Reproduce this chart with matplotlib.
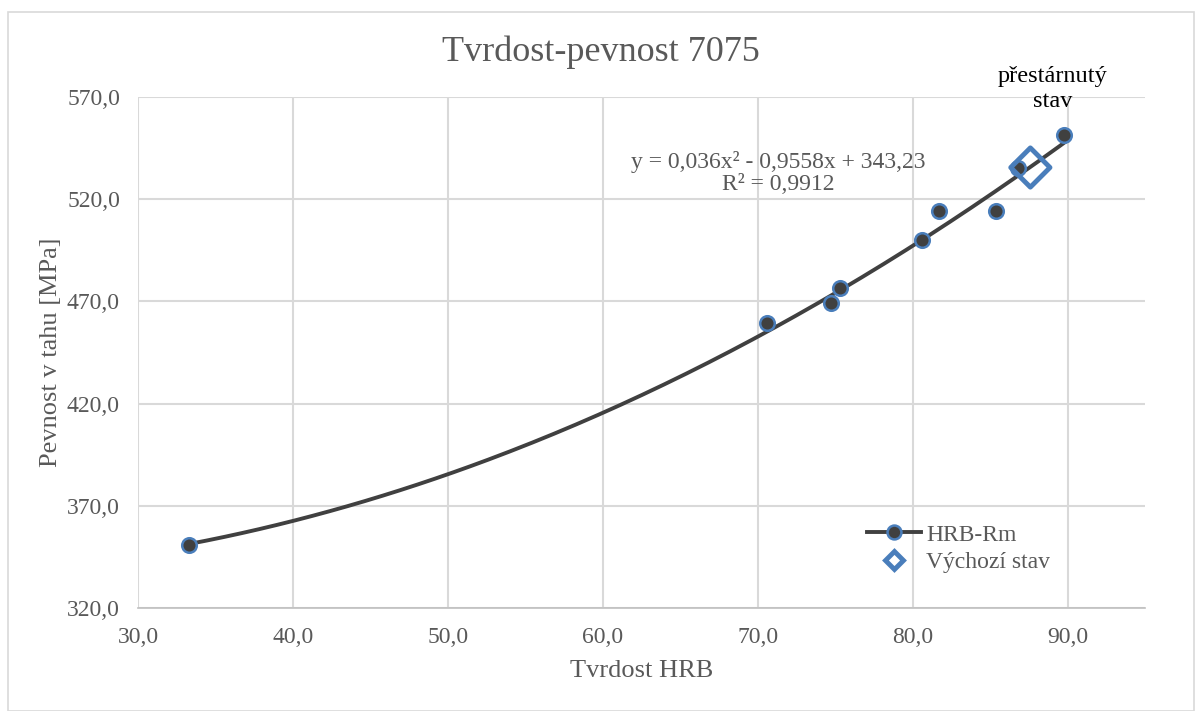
import matplotlib.pyplot as plt
import matplotlib.patches as patches
import numpy as np
from matplotlib.lines import Line2D

plt.rcParams['font.family'] = ['Liberation Serif', 'DejaVu Serif']

# HRB-Rm series
hrb = [33.3, 70.6, 74.7, 75.3, 80.6, 81.7, 85.4, 86.8, 89.8]
rm = [351.0, 459.5, 469.0, 476.5, 500.0, 514.0, 514.0, 535.5, 551.5]
# Vychozi stav
hrb0 = [87.6]
rm0 = [535.5]
# polynomial trendline coefficients (from Excel label)
coef = [0.036, -0.9558, 343.23]

grey = '#595959'
blue = '#4a7ebb'
dark = '#404040'

fig = plt.figure(figsize=(11.96, 7.11), dpi=100)
ax = fig.add_axes([138/1196, 1-608/711, (1145-138)/1196, (608-97)/711])

# outer chart border
fig.patches.append(patches.Rectangle((8/1196, 0), 1186/1196, 1-12/711, transform=fig.transFigure,
                                     fill=False, edgecolor='#d9d9d9', linewidth=1.2))

xs = np.linspace(min(hrb), max(hrb), 200)
ax.plot(xs, np.polyval(coef, xs), color=dark, lw=2.8, zorder=3)
ax.scatter(hrb, rm, s=110, color=dark, edgecolor=blue, linewidth=1.8, zorder=4)
ax.scatter(hrb0, rm0, s=400, marker='D', facecolor='none', edgecolor=blue, linewidth=3.5, zorder=5)

ax.set_xlim(30, 95)
ax.set_ylim(320, 570)
ax.set_xticks(np.arange(30, 91, 10))
ax.set_yticks(np.arange(320, 571, 50))
ax.set_xticklabels([f'{v:.1f}'.replace('.', ',') for v in np.arange(30, 91, 10)])
ax.set_yticklabels([f'{v:.1f}'.replace('.', ',') for v in np.arange(320, 571, 50)])
ax.grid(True, color='#d9d9d9', lw=1.5)
ax.set_axisbelow(True)
for s in ['top', 'right', 'left']:
    ax.spines[s].set_visible(False)
ax.spines['bottom'].set_color('#bfbfbf')
ax.spines['bottom'].set_linewidth(1.2)
ax.tick_params(length=0, labelsize=17, labelcolor=grey)
ax.tick_params(axis='y', pad=13)
ax.tick_params(axis='x', pad=14)

ax.set_xlabel('Tvrdost HRB', fontsize=19, color=grey)
ax.set_ylabel('Pevnost v tahu [MPa]', fontsize=19, color=grey)
ax.xaxis.set_label_coords(0.5, -0.102)
ax.yaxis.set_label_coords(-0.0755, 0.5)
fig.text(601/1196, 1-52/711, 'Tvrdost-pevnost 7075', fontsize=26, color=grey, ha='center', va='center')

ax.text(71.35, 532.8, 'y = 0,036x² - 0,9558x + 343,23\nR² = 0,9912', fontsize=17, color=grey,
        ha='center', va='center', linespacing=1.05)
fig.text(1053/1196, 1-89/711, 'přestárnutý\nstav', fontsize=17.5, color='black',
         ha='center', va='center', linespacing=1.2)

handles = [Line2D([], [], color=dark, lw=2.8, marker='o', markersize=10, markerfacecolor=dark,
                  markeredgecolor=blue, markeredgewidth=1.8),
           Line2D([], [], ls='none', marker='D', markersize=9, markerfacecolor='white',
                  markeredgecolor=blue, markeredgewidth=3.5)]
ax.legend(handles, ['HRB-Rm', 'Výchozí stav'], loc='upper left', bbox_to_anchor=(0.724, 0.164),
          frameon=False, fontsize=17, labelcolor=grey, handlelength=2.3, handletextpad=0.2,
          labelspacing=0.25, borderaxespad=0, borderpad=0)

fig.savefig('out.png', dpi=100)
